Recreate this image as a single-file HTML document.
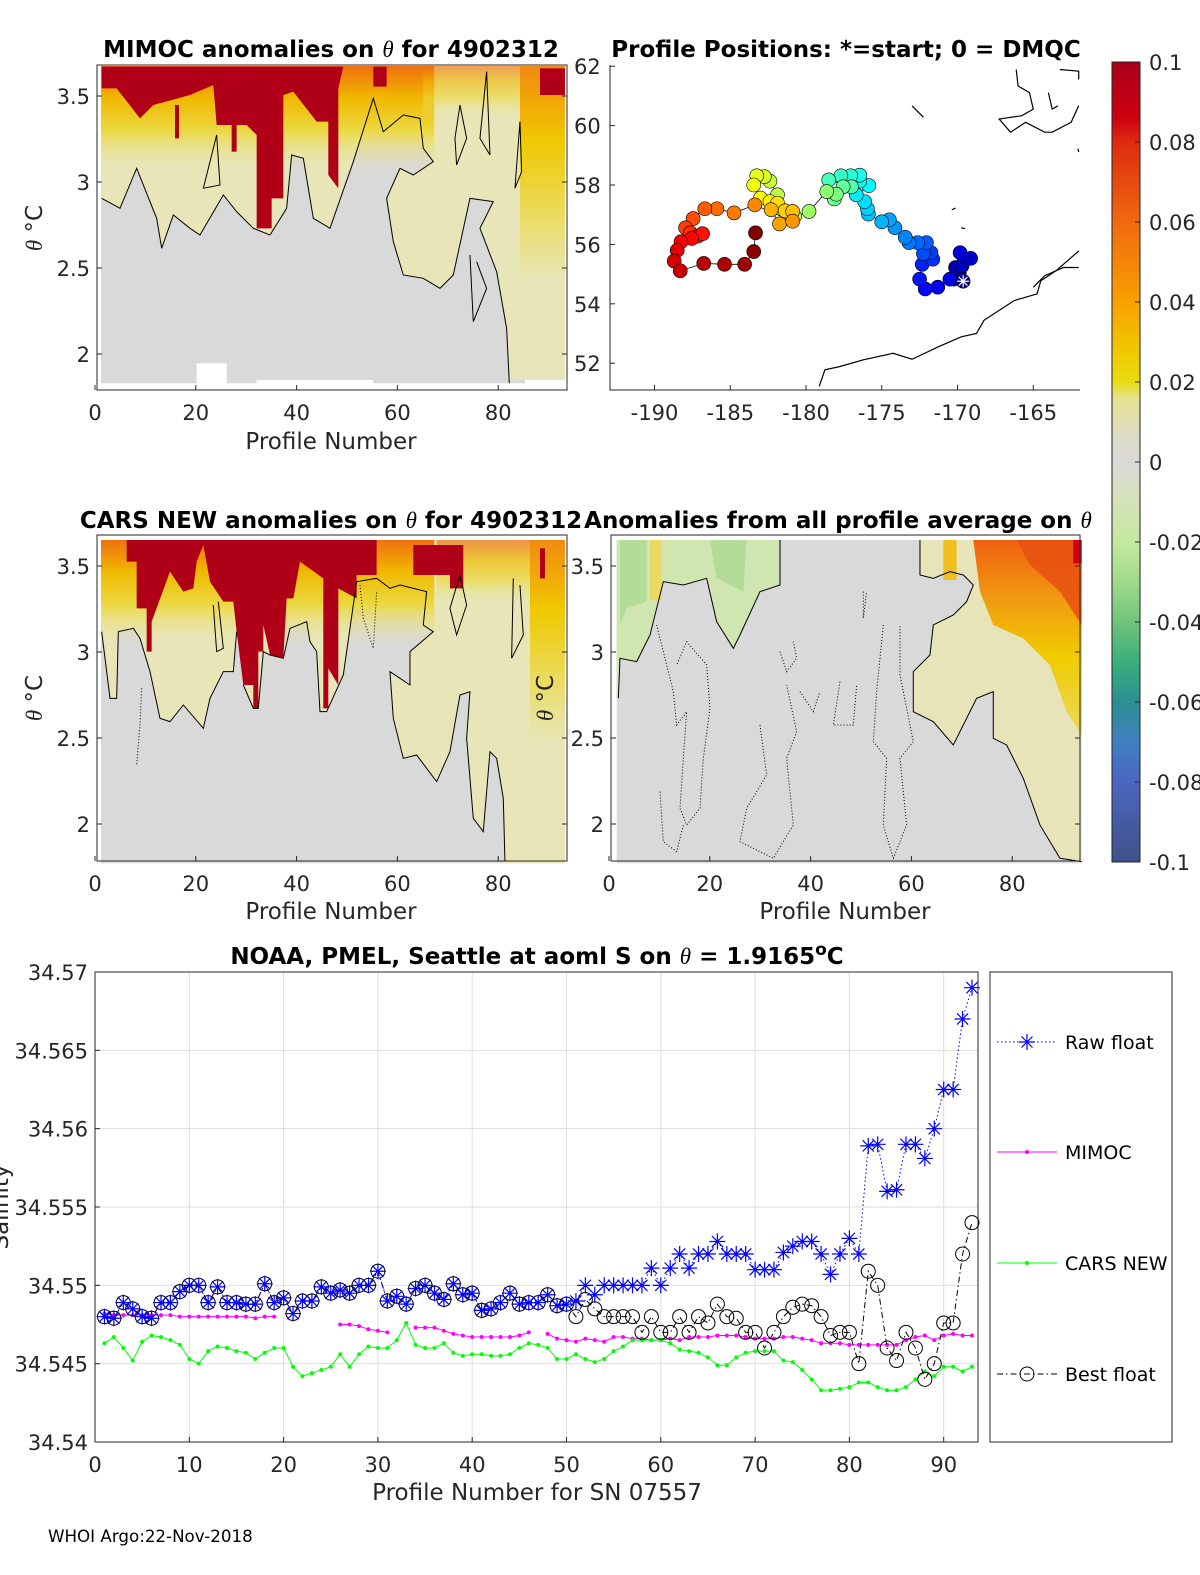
<!DOCTYPE html>
<html><head><meta charset="utf-8"><style>
html,body{margin:0;padding:0;background:#fff;overflow:hidden;width:1200px;height:1575px;}
svg{display:block;font-family:"DejaVu Sans","Liberation Sans",sans-serif;}
.t{font-weight:bold;font-size:23px;fill:#000;text-anchor:middle;}
.tk{font-size:21px;fill:#262626;}
.al{font-size:23px;fill:#262626;text-anchor:middle;}
</style></head><body>
<svg id="fig" width="1200" height="1575" viewBox="0 0 1200 1575">
<defs>
<linearGradient id="cbar" x1="0" y1="0" x2="0" y2="1">
<stop offset="0" stop-color="#a8001c"/><stop offset="0.07" stop-color="#cc0010"/><stop offset="0.1" stop-color="#dd2a10"/>
<stop offset="0.2" stop-color="#f06a10"/><stop offset="0.3" stop-color="#f8a000"/><stop offset="0.36" stop-color="#f0c800"/>
<stop offset="0.4" stop-color="#e8dc10"/><stop offset="0.42" stop-color="#e6e290"/><stop offset="0.47" stop-color="#dcdcc8"/>
<stop offset="0.5" stop-color="#d9d9d9"/><stop offset="0.55" stop-color="#d4e2b8"/><stop offset="0.6" stop-color="#c4e8a0"/>
<stop offset="0.65" stop-color="#a0da8c"/><stop offset="0.7" stop-color="#70c47c"/><stop offset="0.75" stop-color="#3aae7c"/>
<stop offset="0.8" stop-color="#2a9090"/><stop offset="0.85" stop-color="#4080c0"/><stop offset="0.9" stop-color="#4c66c0"/>
<stop offset="1" stop-color="#3e5288"/></linearGradient>
<linearGradient id="topband" x1="0" y1="0" x2="0" y2="1">
<stop offset="0" stop-color="#f07010"/><stop offset="0.3" stop-color="#f0b800"/><stop offset="0.6" stop-color="#ecd840"/><stop offset="1" stop-color="#e8e6b8" stop-opacity="0"/></linearGradient>
<linearGradient id="rstrip" x1="0" y1="0" x2="0" y2="1">
<stop offset="0" stop-color="#f08a10"/><stop offset="0.35" stop-color="#f0c800"/><stop offset="0.7" stop-color="#eadc60"/><stop offset="1" stop-color="#e8e6b8"/></linearGradient>
<linearGradient id="warm" x1="0" y1="0" x2="0" y2="1">
<stop offset="0" stop-color="#f06010"/><stop offset="0.3" stop-color="#f09a10"/><stop offset="0.6" stop-color="#f0cc00"/><stop offset="1" stop-color="#ead860"/></linearGradient>
</defs>

<!-- Panel 1: MIMOC -->
<g transform="translate(90,55) scale(0.3333)">
<rect x="33" y="33" width="1392" height="952" fill="#d9d9d9"/>
<rect x="320" y="925" width="90" height="70" fill="#fff"/><rect x="500" y="975" width="350" height="20" fill="#fff"/><rect x="1305" y="975" width="120" height="20" fill="#fff"/>
<polygon fill="#e8e6b8" points="33,33 1425,33 1425,975 1260,975 1250,820 1220,650 1170,520 1210,440 1140,430 1090,660 1050,700 1000,670 940,660 910,560 890,430 930,340 970,360 1030,320 1000,280 990,190 940,180 880,230 850,130 790,320 720,520 670,490 640,310 605,300 590,460 540,540 490,520 440,470 400,420 330,540 300,520 250,480 215,580 200,490 140,340 90,460 33,430"/>
<rect x="33" y="33" width="1000" height="320" fill="url(#topband)"/>
<rect x="1000" y="33" width="300" height="160" fill="url(#topband)" opacity="0.6"/>
<rect x="1290" y="33" width="135" height="640" fill="url(#rstrip)"/>
<polygon fill="#b00018" points="35,35 760,35 745,100 745,400 715,360 715,200 680,200 610,110 580,120 580,430 545,430 545,520 500,520 500,240 470,210 380,210 370,90 300,120 190,150 150,190 80,100 35,100"/>
<polygon fill="#b00018" points="850,35 890,35 890,95 850,95"/>
<rect x="1350" y="40" width="75" height="80" fill="#b00018"/>
<rect x="255" y="150" width="12" height="100" fill="#b00018"/><rect x="425" y="210" width="15" height="80" fill="#b00018"/>
<g fill="none" stroke="#000" stroke-width="3">
<polyline points="35,430 90,460 140,340 200,490 215,580 250,480 300,520 330,540 400,420 440,470 490,520 540,540 590,460 605,300 640,310 670,490 720,520 790,320 850,130 880,230 940,180 990,190 1000,280 1030,320 970,360 930,340 890,430 910,560 940,660 1000,670 1050,700 1090,660 1140,430 1210,440 1170,520 1220,650 1250,820 1258,985"/>
<polyline points="340,400 380,240 390,390 340,400"/>
<polyline points="1110,150 1095,250 1100,330 1130,250 1110,150"/>
<polyline points="1190,50 1170,250 1200,300 1190,50"/>
<polyline points="1290,200 1275,400 1295,350 1290,200"/>
<polyline points="1140,600 1150,800 1190,700 1160,620"/>
</g>
</g>

<!-- Panel 2: CARS -->
<g transform="translate(90,525) scale(0.3333)">
<rect x="33" y="45" width="1392" height="970" fill="#d9d9d9"/>
<polygon fill="#e8e6b8" points="33,45 1425,45 1425,1015 1245,1015 1240,820 1220,700 1200,680 1180,920 1150,880 1130,640 1140,500 1110,510 1080,680 1040,770 980,690 940,700 910,580 900,440 960,480 960,380 1030,320 1000,300 1010,200 930,180 900,190 860,160 800,170 790,240 760,450 710,560 690,560 680,380 660,350 650,290 600,310 580,400 540,390 520,380 505,550 490,550 460,480 440,320 430,440 400,440 360,520 340,610 280,540 240,590 210,580 180,440 150,340 130,310 85,320 80,520 60,520 35,320"/>
<rect x="33" y="45" width="1000" height="320" fill="url(#topband)"/>
<rect x="1040" y="45" width="300" height="200" fill="url(#topband)" opacity="0.7"/>
<rect x="1320" y="45" width="105" height="600" fill="url(#rstrip)"/>
<polygon fill="#b00018" points="110,45 860,45 860,150 800,150 800,220 745,190 745,480 715,430 715,550 700,550 700,160 630,110 610,220 590,220 580,400 540,390 520,300 520,380 505,380 505,550 490,550 490,480 460,480 440,320 430,230 400,230 360,170 340,60 320,110 310,190 280,200 240,140 185,290 185,380 170,380 170,250 140,250 140,110 110,110"/>
<polygon fill="#b00018" points="970,60 1120,60 1120,190 1080,190 1080,150 970,150"/>
<rect x="1350" y="70" width="15" height="90" fill="#b00018"/>
<g fill="none" stroke="#000" stroke-width="3">
<polyline points="35,320 60,520 80,520 85,320 130,310 150,340 180,440 210,580 240,590 280,540 340,610 360,520 400,440 430,440 440,320"/>
<polyline points="460,480 490,550 505,550 520,380 540,390 580,400 600,310 650,290 660,350 680,380 690,560 710,560 760,450 790,240 800,170 860,160 900,190 930,180 1010,200 1000,300 1030,320 960,380 960,480 900,440 910,580 940,700 980,690 1040,770 1080,680 1110,510 1140,500 1130,640 1150,880 1180,920 1200,680 1220,700 1240,820 1245,1010"/>
<polyline points="370,240 380,380 400,370 385,230"/>
<polyline points="1110,150 1080,250 1100,330 1130,240 1110,150"/>
<polyline points="1270,160 1265,400 1300,330 1290,180"/>
</g>
<polyline fill="none" stroke="#000" stroke-width="3" stroke-dasharray="3,6" points="155,490 150,600 140,720"/>
<polyline fill="none" stroke="#000" stroke-width="3" stroke-dasharray="3,6" points="810,180 820,280 850,370 860,200"/>
</g>

<!-- Panel 3: all-profile average anomalies -->
<g transform="translate(600,525) scale(0.3333)">
<rect x="50" y="45" width="1395" height="970" fill="#d9d9d9"/>
<polygon fill="#cfe6b0" points="50,45 540,45 540,180 480,200 420,330 400,370 350,290 320,160 250,180 190,170 150,330 110,410 60,400 55,520 50,520"/>
<polygon fill="#b2dc98" points="60,45 140,45 140,230 80,250 60,300"/>
<polygon fill="#b2dc98" points="330,45 440,45 430,200 350,160"/>
<rect x="150" y="45" width="35" height="180" fill="#ead860"/>
<polygon fill="#e6e4b8" points="880,45 1445,45 1445,1010 1380,1000 1320,900 1270,760 1220,660 1180,640 1180,500 1130,520 1060,660 1000,590 940,560 940,440 990,390 1000,300 1060,270 1100,230 1120,180 1090,150 1050,140 1000,160 960,150 960,45"/>
<polygon fill="url(#warm)" points="1120,45 1445,45 1445,630 1400,560 1350,420 1270,340 1180,300 1140,200"/>
<polygon fill="#e85010" opacity="0.85" points="1250,45 1445,45 1445,300 1380,200 1290,120"/>
<rect x="1420" y="45" width="25" height="70" fill="#c80010"/>
<rect x="1030" y="45" width="40" height="120" fill="#f0c020"/>
<g fill="none" stroke="#000" stroke-width="3">
<polyline points="55,520 60,400 110,410 150,330 190,170 250,180 320,160 350,290 400,370 420,330 480,200 540,180 540,45"/>
<polyline points="1445,1010 1380,1000 1320,900 1270,760 1220,660 1180,640 1180,500 1130,520 1060,660 1000,590 940,560 940,440 990,390 1000,300 1060,270 1100,230 1120,180 1090,150 1050,140 1000,160 960,150 960,45"/>
</g>
<g fill="none" stroke="#000" stroke-width="3" stroke-dasharray="3,6">
<polyline points="170,300 220,500 230,600 260,560 250,700 240,850 260,900 300,850 310,700 330,550 320,420 260,350 230,420"/>
<polyline points="180,800 190,950 230,980 250,900"/>
<polyline points="480,600 500,750 440,850 420,950 520,1000 580,900 560,700 590,620 560,480"/>
<polyline points="600,500 640,560 660,500"/>
<polyline points="720,470 700,600 760,600 770,480"/>
<polyline points="850,300 830,500 820,650 860,700 850,900 880,1000 920,900 900,700 940,650 900,450 900,300"/>
<polyline points="540,380 560,440 590,400 580,350"/>
<polyline points="790,200 790,280 800,200"/>
</g>
</g>

<!-- Axes boxes for top panels -->
<g fill="none" stroke="#262626" stroke-width="1">
<rect x="97" y="65" width="470" height="325"/>
<rect x="97" y="535" width="470" height="326"/>
<rect x="611" y="535" width="469" height="326"/>
<path d="M610 65 V390 H1080"/>
</g>
<g id="topticks"></g>

<!-- Titles -->
<text class="t" x="331" y="57">MIMOC anomalies on <tspan font-style="italic" font-weight="normal" font-family="Liberation Serif">θ</tspan>  for 4902312</text>
<text class="t" x="846" y="57">Profile Positions: *=start; 0 = DMQC</text>
<text class="t" x="331" y="528">CARS NEW anomalies on <tspan font-style="italic" font-weight="normal" font-family="Liberation Serif">θ</tspan> for 4902312</text>
<text class="t" x="838" y="528">Anomalies from all profile average on <tspan font-style="italic" font-weight="normal" font-family="Liberation Serif">θ</tspan></text>

<text class="al" x="331" y="449">Profile Number</text>
<text class="al" x="331" y="919">Profile Number</text>
<text class="al" x="845" y="919">Profile Number</text>
<text class="al" transform="translate(42,228) rotate(-90)"><tspan font-style="italic" font-family="Liberation Serif">θ</tspan> °C</text>
<text class="al" transform="translate(42,698) rotate(-90)"><tspan font-style="italic" font-family="Liberation Serif">θ</tspan> °C</text>
<text class="al" transform="translate(553,698) rotate(-90)"><tspan font-style="italic" font-family="Liberation Serif">θ</tspan> °C</text>

<!-- Map -->
<g id="map"></g>

<!-- Colorbar -->
<rect x="1112" y="62" width="28" height="800" fill="url(#cbar)" stroke="#262626"/>
<g id="cbticks"></g>

<!-- Bottom chart -->
<g id="bottom"></g>
<text class="t" x="537" y="964">NOAA, PMEL, Seattle at aoml S on <tspan font-style="italic" font-weight="normal" font-family="Liberation Serif">θ</tspan> = 1.9165<tspan dy="-9" font-size="17">o</tspan><tspan dy="9">C</tspan></text>
<text class="al" x="537" y="1500">Profile Number for SN 07557</text>
<text class="al" transform="translate(8,1207) rotate(-90)">Salinity</text>
<text x="48" y="1542" font-size="16.7" fill="#000">WHOI Argo:22-Nov-2018</text>

<!-- Legend -->
<g>
<rect x="990" y="972" width="182" height="470" fill="#fff" stroke="#262626"/>
<g>
<line x1="997" y1="1042" x2="1057" y2="1042" stroke="#0000ff" stroke-dasharray="1.5,2.5"/>
<path d="M1019 1042h16M1027 1034v16M1021.5 1036.5l11 11M1032.5 1036.5l-11 11" stroke="#0000ff" stroke-width="1.2"/>
<text x="1065" y="1049" font-size="19" fill="#000">Raw float</text></g>
<g>
<line x1="997" y1="1152" x2="1057" y2="1152" stroke="#ff00ff"/><circle cx="1027" cy="1152" r="2" fill="#ff00ff"/>
<text x="1065" y="1159" font-size="19" fill="#000">MIMOC</text></g>
<g>
<line x1="997" y1="1263" x2="1057" y2="1263" stroke="#00ff00"/><circle cx="1027" cy="1263" r="2" fill="#00ff00"/>
<text x="1065" y="1270" font-size="19" fill="#000">CARS NEW</text></g>
<g>
<line x1="997" y1="1374" x2="1057" y2="1374" stroke="#000" stroke-dasharray="6,3,1.5,3"/><circle cx="1027" cy="1374" r="7" fill="none" stroke="#000"/>
<text x="1065" y="1381" font-size="19" fill="#000">Best float</text></g>
</g>
</svg>
<script>
// ---- bottom chart data ----
const profiles = Array.from({length:93},(_,i)=>i+1);
const rawFloat = [34.5480,34.5479,34.5489,34.5485,34.5480,34.5479,34.5489,34.5489,34.5496,34.5500,
34.5500,34.5489,34.5499,34.5489,34.5489,34.5488,34.5488,34.5501,34.5489,34.5492,
34.5482,34.5490,34.5490,34.5499,34.5495,34.5497,34.5495,34.5500,34.5500,34.5509,
34.5490,34.5493,34.5488,34.5498,34.5500,34.5495,34.5491,34.5501,34.5494,34.5495,
34.5484,34.5485,34.5489,34.5495,34.5488,34.5489,34.5489,34.5494,34.5487,34.5488,
34.5490,34.5500,34.5494,34.5500,34.5500,34.5500,34.5500,34.5500,34.5511,34.5500,
34.5511,34.5520,34.5511,34.5520,34.5520,34.5528,34.5520,34.5520,34.5520,34.5510,
34.5510,34.5510,34.5521,34.5525,34.5528,34.5528,34.5520,34.5507,34.5520,34.5530,
34.5520,34.5589,34.5590,34.5560,34.5561,34.5590,34.5590,34.5581,34.5600,34.5625,
34.5625,34.5670,34.5690];
const bestFloat = [34.5480,34.5479,34.5489,34.5485,34.5480,34.5479,34.5489,34.5489,34.5496,34.5500,
34.5500,34.5489,34.5499,34.5489,34.5489,34.5488,34.5488,34.5501,34.5489,34.5492,
34.5482,34.5490,34.5490,34.5499,34.5495,34.5497,34.5495,34.5500,34.5500,34.5509,
34.5490,34.5493,34.5488,34.5498,34.5500,34.5495,34.5491,34.5501,34.5494,34.5495,
34.5484,34.5485,34.5489,34.5495,34.5488,34.5489,34.5489,34.5494,34.5487,34.5488,
34.5480,34.5491,34.5485,34.5480,34.5480,34.5480,34.5480,34.5470,34.5480,34.5470,
34.5470,34.5480,34.5470,34.5480,34.5476,34.5488,34.5480,34.5479,34.5470,34.5470,
34.5460,34.5470,34.5480,34.5486,34.5488,34.5487,34.5480,34.5468,34.5470,34.5470,
34.5450,34.5509,34.5500,34.5460,34.5452,34.5470,34.5460,34.5440,34.5450,34.5476,
34.5476,34.5520,34.5540];
const mimoc = [34.5482,34.5481,34.5481,34.5481,34.5481,34.5481,34.5481,34.5481,34.5480,34.5480,
34.5480,34.5480,34.5480,34.5480,34.5480,34.5480,34.5479,34.5480,34.5480,null,
null,null,null,null,null,34.5475,34.5475,34.5474,34.5472,34.5471,
34.5470,null,null,34.5473,34.5473,34.5473,34.5471,34.5469,34.5468,34.5467,
34.5467,34.5467,34.5467,34.5467,34.5468,34.5470,null,34.5469,34.5466,34.5465,
34.5464,34.5466,34.5465,34.5464,34.5467,34.5467,34.5466,34.5466,34.5465,34.5465,
34.5466,34.5465,34.5467,34.5467,34.5467,34.5468,34.5468,34.5468,34.5467,34.5466,
34.5466,34.5466,34.5467,34.5467,34.5466,34.5465,34.5463,34.5463,34.5463,34.5462,
34.5462,34.5462,34.5462,34.5462,34.5462,34.5465,34.5467,34.5468,34.5465,34.5468,
34.5469,34.5468,34.5468];
const carsNew = [34.5463,34.5467,34.5460,34.5452,34.5464,34.5468,34.5467,34.5465,34.5462,34.5453,
34.5450,34.5458,34.5461,34.5460,34.5458,34.5457,34.5453,34.5457,34.5460,34.5460,
34.5448,34.5442,34.5444,34.5446,34.5448,34.5456,34.5448,34.5456,34.5461,34.5460,
34.5460,34.5465,34.5476,34.5462,34.5460,34.5460,34.5463,34.5457,34.5455,34.5456,
34.5456,34.5455,34.5455,34.5456,34.5460,34.5463,34.5462,34.5460,34.5453,34.5453,
34.5456,34.5453,34.5451,34.5453,34.5458,34.5461,34.5465,34.5465,34.5465,34.5465,
34.5463,34.5459,34.5458,34.5457,34.5454,34.5449,34.5449,34.5454,34.5457,34.5458,
34.5458,34.5458,34.5452,34.5451,34.5446,34.5440,34.5433,34.5433,34.5434,34.5435,
34.5438,34.5438,34.5435,34.5433,34.5433,34.5435,34.5440,34.5445,34.5442,34.5448,
34.5448,34.5445,34.5448];
const xTicks = [0,10,20,30,40,50,60,70,80,90];
const yTicks = [34.54,34.545,34.55,34.555,34.56,34.565,34.57];
const yTickLabels = ["34.54","34.545","34.55","34.555","34.56","34.565","34.57"];

// ---- map data (lon, lat in track order, start first) ----
const trackLon = [-169.63,-170.25,-169.88,-170.13,-169.70,-169.13,-169.83,-170.50,-171.30,-172.13,-172.50,-172.33,-171.63,-171.75,-172.25,-172.05,-172.63,-173.20,-173.45,-174.13,-174.50,-175.00,-175.88,-175.95,-176.13,-176.68,-175.85,-176.45,-176.45,-177.05,-177.70,-178.50,-177.00,-177.55,-178.13,-178.00,-178.63,-179.80,-180.75,-181.88,-182.38,-182.75,-183.25,-183.45,-183.00,-182.38,-181.88,-181.38,-180.88,-182.30,-181.75,-180.88,-183.38,-184.75,-185.88,-186.68,-187.45,-187.95,-187.63,-187.13,-186.83,-187.55,-188.25,-188.50,-188.70,-188.30,-186.75,-185.38,-184.05,-183.45,-183.33];
const trackLat = [54.76,54.83,55.06,55.22,55.28,55.53,55.72,54.83,54.56,54.50,54.83,55.33,55.50,55.72,55.69,56.06,56.06,56.06,56.24,56.56,56.83,56.76,57.02,57.20,57.44,57.67,57.98,58.13,58.33,58.31,58.31,58.17,57.94,57.94,57.53,57.69,57.78,57.11,56.94,57.67,58.13,58.28,58.31,58.00,57.56,57.44,57.39,57.13,57.11,57.17,56.69,56.78,57.33,57.06,57.20,57.20,56.87,56.56,56.39,56.28,56.36,56.20,56.09,55.80,55.44,55.11,55.36,55.33,55.33,55.76,56.39];
const lonTicks = [-190,-185,-180,-175,-170,-165];
const latTicks = [52,54,56,58,60,62];
const cbTicks = [0.1,0.08,0.06,0.04,0.02,0,-0.02,-0.04,-0.06,-0.08,-0.1];

const NS='http://www.w3.org/2000/svg';
function mk(tag,attrs,parent){const e=document.createElementNS(NS,tag);for(const k in attrs)e.setAttribute(k,attrs[k]);parent.appendChild(e);return e;}

// top panels ticks
const tt=document.getElementById('topticks');
function panelTicks(x0,x1,yTop,yBot,xs0,yOf){
  [0,20,40,60,80].forEach(v=>{const x=x0+v*5.04;
    mk('line',{x1:x,y1:yBot,x2:x,y2:yBot-5,stroke:'#262626'},tt);
    const t=mk('text',{x:x,y:yBot+30,class:'tk','text-anchor':'middle'},tt);t.textContent=v;
    
    });
  [2,2.5,3,3.5].forEach(v=>{const y=yOf(v);
    mk('line',{x1:xs0,y1:y,x2:xs0+5,y2:y,stroke:'#262626'},tt);
    mk('line',{x1:x1,y1:y,x2:x1-5,y2:y,stroke:'#262626'},tt);
    const t=mk('text',{x:xs0-7,y:y+8,class:'tk','text-anchor':'end'},tt);t.textContent=v;
    
    });
}
panelTicks(95,567,65,390,97,v=>96+(3.5-v)*172);
panelTicks(95,567,535,861,97,v=>566+(3.5-v)*172);
panelTicks(609,1080,535,861,611,v=>566+(3.5-v)*172);

// map
const map=document.getElementById('map');
const lonX=lon=>806+(lon+180)*15.15;
const latY=lat=>185-(lat-58)*29.7;
lonTicks.forEach(v=>{const x=lonX(v);
  mk('line',{x1:x,y1:390,x2:x,y2:385,stroke:'#262626'},map);
  const t=mk('text',{x:x,y:420,class:'tk','text-anchor':'middle'},map);t.textContent=v;
  
  });
latTicks.forEach(v=>{const y=latY(v);
  mk('line',{x1:610,y1:y,x2:615,y2:y,stroke:'#262626'},map);
  const t=mk('text',{x:574,y:y+8,class:'tk'},map);t.textContent=v;
  
  });
const zl=zx=>-180+(zx-550)/40, zb=zy=>58-(zy-390)/90;
const coasts=[
 [[585,1000],[600,950],[640,940],[700,920],[780,900],[830,918],[900,880],[960,850],[1000,840],[1020,800],[1060,770],[1100,740],[1160,720],[1170,680],[1210,650],[1240,620],[1270,590]],
 [[1150,700],[1180,665],[1230,640],[1270,640]],
 [[1105,40],[1110,90],[1140,110],[1150,160],[1120,180],[1060,190],[1090,230],[1130,200],[1180,230],[1200,230],[1250,200],[1270,150]],
 [[1220,40],[1270,45],[1270,70]],
 [[1190,110],[1200,160],[1215,150]],
 [[830,150],[860,185]],[[935,465],[945,460]],[[960,520],[970,522]],[[1268,280],[1270,290]]];
coasts.forEach(c=>{const p=mk('polyline',{points:c.map(q=>lonX(zl(q[0]))+','+latY(zb(q[1]))).join(' '),fill:'none',stroke:'#000','stroke-width':1.2},map);
  
  });
const trk=mk('polyline',{points:trackLon.map((l,i)=>lonX(l)+','+latY(trackLat[i])).join(' '),fill:'none',stroke:'#000','stroke-width':0.8},map);


function jet(t){const c=v=>Math.round(255*Math.max(0,Math.min(1,v)));return `rgb(${c(1.5-Math.abs(4*t-3))},${c(1.5-Math.abs(4*t-2))},${c(1.5-Math.abs(4*t-1))})`;}
trackLon.forEach((l,i)=>{const c=mk('circle',{cx:lonX(l),cy:latY(trackLat[i]),r:7,fill:jet(i/(trackLon.length-1)),stroke:'#000','stroke-width':0.6},map);
  
  });
{const x=lonX(trackLon[0]),y=latY(trackLat[0]);
 const s=mk('path',{d:`M${x-6} ${y}h12M${x} ${y-6}v12M${x-4.3} ${y-4.3}l8.6 8.6M${x+4.3} ${y-4.3}l-8.6 8.6`,stroke:'#fff','stroke-width':1.2},map);
 
 }

// colorbar ticks
const cb=document.getElementById('cbticks');
cbTicks.forEach(v=>{const y=462-v*4000;
  mk('line',{x1:1135,y1:y,x2:1140,y2:y,stroke:'#262626'},cb);
  const t=mk('text',{x:1149,y:y+8,class:'tk'},cb);t.textContent=String(v);
  
  });

// bottom chart
const B=document.getElementById('bottom');
const X=n=>95+n*9.43;
const Y=v=>972+(34.57-v)*15667;
mk('rect',{x:95,y:972,width:883,height:470,fill:'#fff'},B);
xTicks.forEach(v=>{if(v>0)mk('line',{x1:X(v),y1:972,x2:X(v),y2:1442,stroke:'#dedede'},B);
  mk('line',{x1:X(v),y1:1442,x2:X(v),y2:1437,stroke:'#262626'},B);
  const t=mk('text',{x:X(v),y:1472,class:'tk','text-anchor':'middle'},B);t.textContent=v;
  
  });
yTicks.forEach((v,i)=>{mk('line',{x1:95,y1:Y(v),x2:978,y2:Y(v),stroke:'#dedede'},B);
  mk('line',{x1:95,y1:Y(v),x2:100,y2:Y(v),stroke:'#262626'},B);
  const t=mk('text',{x:88,y:Y(v)+8,class:'tk','text-anchor':'end'},B);t.textContent=yTickLabels[i];
  
  });
mk('rect',{x:95,y:972,width:883,height:470,fill:'none',stroke:'#262626'},B);
function pathOf(arr){let d='',pen=false;arr.forEach((v,i)=>{if(v==null){pen=false;return;}d+=(pen?'L':'M')+X(profiles[i])+' '+Y(v);pen=true;});return d;}
const lm=mk('path',{d:pathOf(mimoc),fill:'none',stroke:'#ff00ff','stroke-width':1},B);


mimoc.forEach((v,i)=>{if(v==null)return;const c=mk('circle',{cx:X(profiles[i]),cy:Y(v),r:2,fill:'#ff00ff'},B);
  
  });
const lc=mk('path',{d:pathOf(carsNew),fill:'none',stroke:'#00ff00','stroke-width':1},B);


carsNew.forEach((v,i)=>{const c=mk('circle',{cx:X(profiles[i]),cy:Y(v),r:2,fill:'#00ff00'},B);
  
  });
const lb=mk('path',{d:pathOf(bestFloat),fill:'none',stroke:'#000','stroke-width':1,'stroke-dasharray':'6,3,1.5,3'},B);


bestFloat.forEach((v,i)=>{const c=mk('circle',{cx:X(profiles[i]),cy:Y(v),r:7,fill:'none',stroke:'#000','stroke-width':1},B);
  
  });
const lr=mk('path',{d:pathOf(rawFloat),fill:'none',stroke:'#0000ff','stroke-width':1,'stroke-dasharray':'1.5,2.5'},B);


rawFloat.forEach((v,i)=>{const x=X(profiles[i]),y=Y(v);
  const s=mk('path',{d:`M${x-8} ${y}h16M${x} ${y-8}v16M${x-5.6} ${y-5.6}l11.2 11.2M${x+5.6} ${y-5.6}l-11.2 11.2`,stroke:'#0000ff','stroke-width':1.2},B);
  
  });
</script>
</body></html>
